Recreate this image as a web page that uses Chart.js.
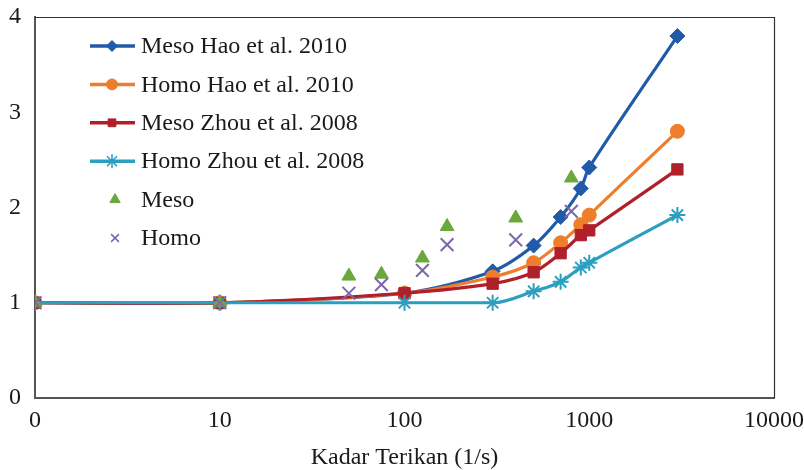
<!DOCTYPE html>
<html>
<head>
<meta charset="utf-8">
<script src="https://cdn.jsdelivr.net/npm/chart.js@4.4.1/dist/chart.umd.min.js"></script>
<style>
  html, body { margin: 0; padding: 0; background: #ffffff; }
  #wrap { width: 804px; height: 470px; }
</style>
</head>
<body>
<div id="wrap"><canvas id="c" width="804" height="470"></canvas></div>
<script>
// ---- Data ----
const lineRates = [1, 10, 100, 300, 500, 700, 900, 1000, 3000];
const mesoHao   = [1, 1, 1.1, 1.33, 1.6, 1.9, 2.2, 2.42, 3.8];
const homoHao   = [1, 1, 1.1, 1.27, 1.42, 1.63, 1.82, 1.92, 2.8];
const mesoZhou  = [1, 1, 1.1, 1.2, 1.32, 1.52, 1.71, 1.76, 2.4];
const homoZhou  = [1, 1, 1.0, 1.0, 1.12, 1.22, 1.37, 1.42, 1.92];

const expRates  = [1, 10, 50, 75, 125, 170, 400, 800];
const mesoExp   = [1, 1, 1.28, 1.3, 1.47, 1.8, 1.89, 2.31];
const homoExp   = [1, 1, 1.1, 1.19, 1.34, 1.61, 1.66, 1.96];

const xTicks = [1, 10, 100, 1000, 10000];
const xTickLabels = ['0', '10', '100', '1000', '10000'];
const yTicks = [0, 1, 2, 3, 4];

const seriesNames = ['Meso Hao et al. 2010', 'Homo Hao et al. 2010', 'Meso Zhou et al. 2008', 'Homo Zhou et al. 2008', 'Meso', 'Homo'];
const xTitle = 'Kadar Terikan (1/s)';

const FONT = "'Liberation Serif', 'Times New Roman', serif";
const C_BLUE = '#1f5ba8', C_ORANGE = '#ee7d2c', C_RED = '#b0202b', C_CYAN = '#2a9fbf', C_GREEN = '#6aa83c', C_PURPLE = '#7e66ae';

function pts(xs, ys) { return xs.map((x, i) => ({ x: x, y: ys[i] })); }

const lineCommon = { borderWidth: 3.2, tension: 0.3 };

const datasets = [
  Object.assign({ label: seriesNames[0], data: pts(lineRates, mesoHao), borderColor: C_BLUE, backgroundColor: C_BLUE,
    pointStyle: 'rectRot', pointRadius: 7.5, pointBorderWidth: 1, order: 6 }, lineCommon),
  Object.assign({ label: seriesNames[1], data: pts(lineRates, homoHao), borderColor: C_ORANGE, backgroundColor: C_ORANGE,
    pointStyle: 'circle', pointRadius: 7, pointBorderWidth: 1, order: 5 }, lineCommon),
  Object.assign({ label: seriesNames[2], data: pts(lineRates, mesoZhou), borderColor: C_RED, backgroundColor: C_RED,
    pointStyle: 'rect', pointRadius: 8, pointBorderWidth: 1, order: 4 }, lineCommon),
  Object.assign({ label: seriesNames[3], data: pts(lineRates, homoZhou), borderColor: C_CYAN, backgroundColor: C_CYAN,
    pointStyle: 'star', pointRadius: 8, pointBorderWidth: 2, order: 3 }, lineCommon, { cubicInterpolationMode: 'monotone' }),
  { label: seriesNames[4], data: pts(expRates, mesoExp), borderColor: C_GREEN, backgroundColor: C_GREEN,
    pointStyle: 'triangle', pointRadius: 8, pointBorderWidth: 1, showLine: false, order: 2 },
  { label: seriesNames[5], data: pts(expRates, homoExp), borderColor: C_PURPLE, backgroundColor: C_PURPLE,
    pointStyle: 'crossRot', pointRadius: 9, pointBorderWidth: 2, showLine: false, order: 1 }
];

// custom legend (line + marker) and frame
const legendFrame = {
  id: 'legendFrame',
  afterDatasetsDraw(chart) {
    const ctx = chart.ctx;
    const a = chart.chartArea;
    ctx.save();
    ctx.strokeStyle = '#333333';
    ctx.lineWidth = 1.2;
    ctx.beginPath();
    ctx.moveTo(a.left, a.top + 0.5);
    ctx.lineTo(a.right + 0.5, a.top + 0.5);
    ctx.lineTo(a.right + 0.5, a.bottom);
    ctx.stroke();

    const x0 = 90, x1 = 135, mx = 112, textX = 141, y0 = 46, dy = 38.4;
    ctx.font = '24px ' + FONT;
    ctx.textBaseline = 'middle';
    ctx.textAlign = 'left';
    chart.data.datasets.forEach((ds, i) => {
      const y = y0 + i * dy;
      if (ds.showLine !== false) {
        ctx.strokeStyle = ds.borderColor;
        ctx.lineWidth = 3.5;
        ctx.beginPath();
        ctx.moveTo(x0, y);
        ctx.lineTo(x1, y);
        ctx.stroke();
      }
      ctx.fillStyle = ds.backgroundColor;
      ctx.strokeStyle = ds.borderColor;
      ctx.lineWidth = ds.pointStyle === 'crossRot' || ds.pointStyle === 'star' ? 1.5 : 1;
      const r = ds.pointStyle === 'star' ? 7 : (ds.pointStyle === 'triangle' ? 6 : 5.5);
      Chart.helpers.drawPoint(ctx, { pointStyle: ds.pointStyle, rotation: 0, borderWidth: ctx.lineWidth, radius: r },
        ds.showLine === false ? 115 : mx, y);
      ctx.fillStyle = '#1a1a1a';
      ctx.fillText(ds.label, textX, y + 1);
    });
    ctx.restore();
  }
};

new Chart(document.getElementById('c'), {
  type: 'line',
  data: { datasets: datasets },
  options: {
    responsive: false,
    animation: false,
    devicePixelRatio: 1,
    layout: { padding: { left: 0, top: 17, right: 30, bottom: 0 } },
    plugins: { legend: { display: false }, tooltip: { enabled: false } },
    scales: {
      x: {
        type: 'logarithmic',
        min: 1, max: 10000,
        afterBuildTicks: (s) => { s.ticks = xTicks.map(v => ({ value: v })); },
        afterFit: (s) => { s.height = 72; s.paddingLeft = 0; s.paddingRight = 0; },
        grid: { display: false, drawTicks: false, tickLength: 0 },
        border: { display: true, color: '#555555', width: 2 },
        ticks: {
          autoSkip: false, maxRotation: 0, padding: 8,
          color: '#1a1a1a', font: { family: FONT, size: 24 },
          callback: (v) => { const i = xTicks.indexOf(v); return i >= 0 ? xTickLabels[i] : ''; }
        },
        title: { display: true, text: xTitle, color: '#1a1a1a', font: { family: FONT, size: 24, lineHeight: 1 }, padding: { top: 8, bottom: 0 } }
      },
      y: {
        min: 0, max: 4,
        afterBuildTicks: (s) => { s.ticks = yTicks.map(v => ({ value: v })); },
        afterFit: (s) => { s.width = 35; s.paddingTop = 0; s.paddingBottom = 0; },
        grid: { display: false, drawTicks: false, tickLength: 0 },
        border: { display: true, color: '#555555', width: 2 },
        ticks: { padding: 14, color: '#1a1a1a', font: { family: FONT, size: 24 } }
      }
    }
  },
  plugins: [legendFrame]
});
</script>
</body>
</html>
